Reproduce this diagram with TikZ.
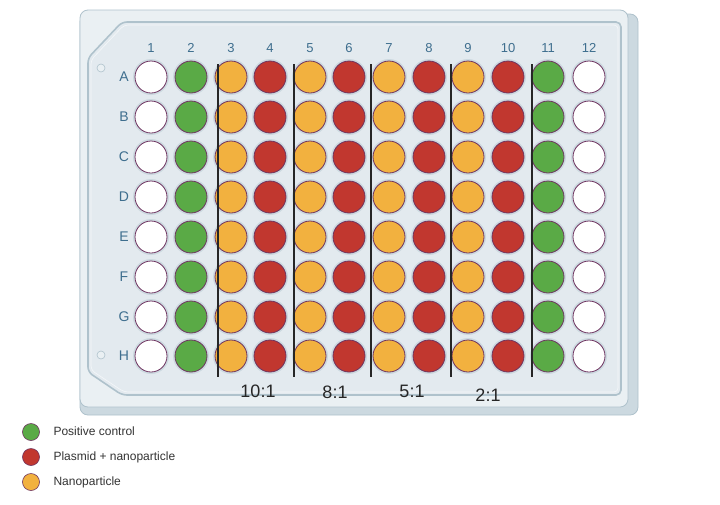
\documentclass[tikz,border=0pt]{standalone}
\usepackage{fontspec}
\setmainfont{Liberation Sans}
\begin{document}
\begin{tikzpicture}[x=1pt,y=-1pt,
  halo/.style={circle,fill=halocol,minimum size=36pt,inner sep=0pt,draw=none},
  well/.style={circle,minimum size=32pt,inner sep=0pt,draw=wellrim,line width=0.8pt},
  wwhite/.style={well,fill=white},
  wgreen/.style={well,fill=wgreencol},
  wred/.style={well,fill=wredcol},
  worange/.style={well,fill=worangecol},
  collab/.style={text=labcol,font=\fontsize{13}{13}\selectfont},
  rowlab/.style={text=labcol,font=\fontsize{14}{14}\selectfont},
  ratio/.style={text=black!85,font=\fontsize{18}{18}\selectfont},
  sep/.style={draw=black!85,line width=1.1pt},
  legdot/.style={circle,minimum size=17pt,inner sep=0pt,draw=wellrim,line width=0.6pt},
  legtxt/.style={anchor=west,text=black!80,font=\fontsize{12}{12}\selectfont},
]
\definecolor{halocol}{HTML}{CCD9E0}
\definecolor{wellrim}{HTML}{6E3460}
\definecolor{wgreencol}{HTML}{5AAA46}
\definecolor{wredcol}{HTML}{C1372F}
\definecolor{worangecol}{HTML}{F2B13F}
\definecolor{labcol}{HTML}{3E6E8E}
\definecolor{platetop}{HTML}{EAF0F3}
\definecolor{plateside}{HTML}{CCD9E0}
\definecolor{plateedge}{HTML}{AFC2CC}
\definecolor{panel}{HTML}{E3EAEF}
\useasboundingbox (0,0) rectangle (720,504);
\fill[white] (0,0) rectangle (720,504);
% plate body (side)
\draw[fill=plateside,draw=plateedge,line width=0.8pt,rounded corners=8pt] (80,14) rectangle (638,415);
% plate top face
\draw[fill=platetop,draw=plateedge,line width=0.8pt,rounded corners=8pt] (80,10) rectangle (628,407);
% inner panel
\draw[fill=panel,draw=plateedge,line width=1.6pt,rounded corners=5pt]
  (122,22) -- (621,22) -- (621,395) -- (122,395) -- (88,372) -- (88,58) -- cycle;
\draw[draw=white!60!panel,line width=0.6pt,rounded corners=4pt]
  (124,25) -- (618,25) -- (618,392) -- (124,392) -- (91,370) -- (91,60) -- cycle;
% small marker rings
\draw[draw=plateedge,fill=platetop,line width=0.6pt] (101,68) circle (4);
\draw[draw=plateedge,fill=platetop,line width=0.6pt] (101,355) circle (4);
% column labels
\foreach \c/\x in {1/151,2/191,3/231,4/270,5/310,6/349,7/389,8/429,9/468,10/508,11/548,12/589}{
  \node[collab] (col\c) at (\x,48) {\c};
}
% row labels
\foreach \r/\y in {A/77,B/117,C/157,D/197,E/237,F/277,G/317,H/356}{
  \node[rowlab] (row\r) at (124,\y) {\r};
}
% wells
\foreach \r/\y in {A/77,B/117,C/157,D/197,E/237,F/277,G/317,H/356}{
  \foreach \c/\x/\s in {1/151/wwhite,2/191/wgreen,3/231/worange,4/270/wred,5/310/worange,6/349/wred,7/389/worange,8/429/wred,9/468/worange,10/508/wred,11/548/wgreen,12/589/wwhite}{
    \node[halo] (h\r\c) at (\x,\y) {};
    \node[\s] (w\r\c) at (\x,\y) {};
  }
}
% separators
\foreach \i/\x in {1/218,2/294,3/371,4/451,5/532}{
  \coordinate (st\i) at (\x,64);
  \coordinate (sb\i) at (\x,377);
  \draw[sep] (st\i) -- (sb\i);
}
% ratio labels
\node[ratio] (r10) at (258,391) {10:1};
\node[ratio] (r8) at (335,392) {8:1};
\node[ratio] (r5) at (412,391) {5:1};
\node[ratio] (r2) at (488,395) {2:1};
% legend
\node[legdot,fill=wgreencol] (lg) at (31,432) {};
\node[legdot,fill=wredcol] (lr) at (31,457) {};
\node[legdot,fill=worangecol] (lo) at (31,482) {};
\node[legtxt] (tg) at (50,431) {Positive control};
\node[legtxt] (tr) at (50,457) {Plasmid + nanoparticle};
\node[legtxt] (to) at (50,482) {Nanoparticle};
\end{tikzpicture}
\end{document}
